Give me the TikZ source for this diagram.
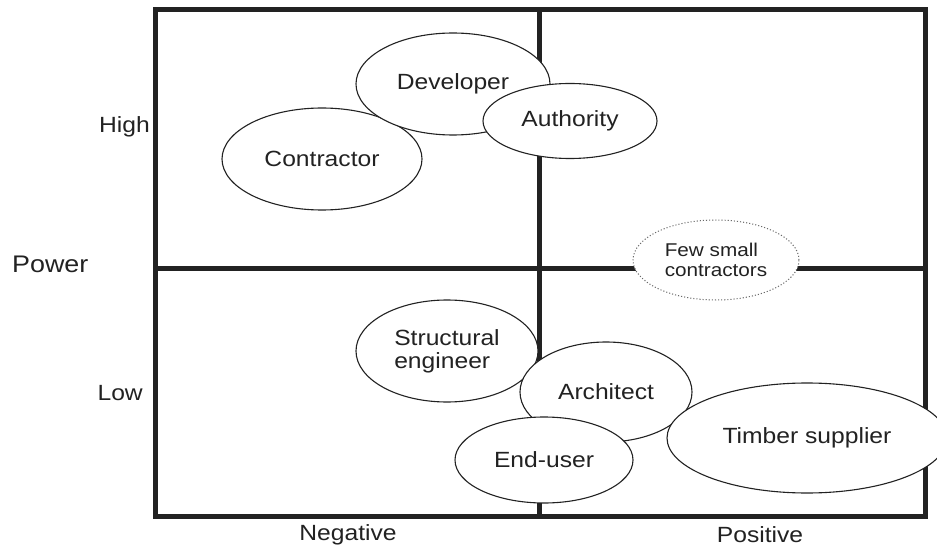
\documentclass[tikz,border=0pt]{standalone}
\usepackage{fontspec}
\setmainfont{Liberation Sans}[FakeStretch=1.12]
\usetikzlibrary{shapes.geometric}
\definecolor{inkgrey}{RGB}{34,34,34}
\definecolor{dotgrey}{RGB}{105,105,105}
\tikzset{
  base/.style={font=\fontsize{22}{23}\selectfont, align=center, inner sep=0pt, text=inkgrey},
  party/.style={base, ellipse, draw=inkgrey, fill=white, line width=1.1pt},
  minor/.style={party, draw=dotgrey, dotted, line width=1pt, font=\fontsize{18.5}{20}\selectfont},
  grid/.style={draw=inkgrey, line width=5pt},
  lbl/.style={base},
}

\begin{document}
\begin{tikzpicture}[x=1pt,y=-1pt]
  \clip (0,0) rectangle (937,548);
  \fill[white] (0,0) rectangle (937,548);
  % quadrant frame
  \draw[grid] (155,10) rectangle (925,516);
  \draw[grid] (539,10) -- (539,516);
  \draw[grid] (155,268) -- (925,268);
  % axis labels
  \node[lbl,font=\fontsize{24}{25}\selectfont,anchor=west] (power) at (12,264) {Power};
  \node[lbl,anchor=east] (high) at (150,127) {High};
  \node[lbl,anchor=east] (low)  at (143,393) {Low};
  \node[lbl] (neg) at (348,535) {Negative};
  \node[lbl] (pos) at (760,535) {Positive};
  % stakeholders, high power
  \node[party,minimum width=200,minimum height=102] (contractor) at (322,159) {Contractor};
  \node[party,minimum width=194,minimum height=102] (developer)  at (453,84)  {Developer};
  \node[party,minimum width=174,minimum height=75]  (authority)  at (570,121) {Authority};
  \node[minor,align=left,minimum width=166,minimum height=80] (smallcon) at (716,260) {Few small\\contractors};
  % stakeholders, low power
  \node[party,align=left,minimum width=182,minimum height=102] (structeng) at (447,351) {Structural\\engineer};
  \node[party,minimum width=172,minimum height=100] (architect) at (606,392) {Architect};
  \node[party,minimum width=178,minimum height=86]  (enduser)   at (544,460) {End-user};
  \node[party,minimum width=280,minimum height=110] (timber)    at (807,438) {Timber supplier};
\end{tikzpicture}
\end{document}
